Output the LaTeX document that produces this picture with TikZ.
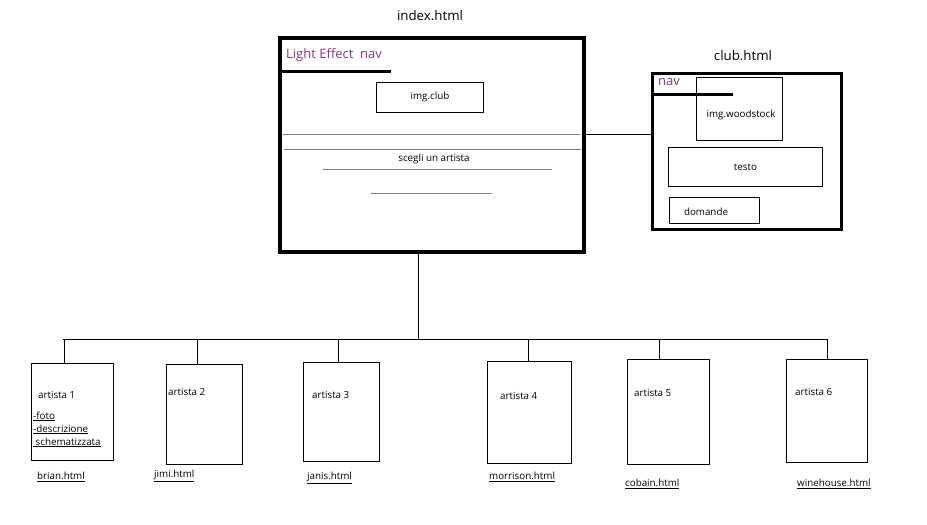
\documentclass[tikz,border=0pt]{standalone}
\usepackage{fontspec}
\setmainfont{Open Sans}
\usetikzlibrary{positioning}
\definecolor{navpurple}{RGB}{125,60,125}
\tikzset{
  pagebox/.style={draw, line width=3.5pt, anchor=north west, inner sep=0pt},
  subbox/.style={draw, line width=0.9pt, anchor=north west, inner sep=0pt},
  title/.style={font=\fontsize{13.3}{15}\selectfont},
  small/.style={font=\fontsize{9.8}{13}\selectfont, inner sep=1pt},
  navlabel/.style={font=\fontsize{13}{15}\selectfont, text=navpurple, anchor=west, inner sep=0pt},
  guide/.style={draw=gray, line width=0.8pt},
}
\begin{document}
\begin{tikzpicture}[x=1pt,y=-1pt]
  \useasboundingbox[fill=white] (0,0) rectangle (927,525);
  % index page
  \node[title](TI)at(430,16){index.html};
  \node[pagebox, minimum width=304, minimum height=214](IDX)at(278,36){};
  \node[navlabel](NI)at(286,55){Light Effect\ \ nav};
  \draw[line width=3pt](IDX.west |- 0,71)--(391,71);
  \node[subbox, minimum width=107, minimum height=30](IMG)at(376,82){};
  \node[small]at(IMG.center){img.club};
  \draw[guide](283,134)--(580,134);
  \draw[guide](284,149)--(581,149);
  \node[small](SC)at(434,159){scegli un artista};
  \draw[guide](323,169)--(552,169);
  \draw[guide](371,193)--(492,193);
  % club page
  \node[title](TC)at(743,56){club.html};
  \node[pagebox, line width=3pt, minimum width=189, minimum height=156](CLB)at(651,72){};
  \node[navlabel](NC)at(658,82){nav};
  \node[subbox, minimum width=86, minimum height=63](WS)at(696,77){};
  \node[small]at(741,115){img.woodstock};
  \draw[line width=3pt](CLB.west |- 0,94)--(733,94);
  \node[subbox, minimum width=154, minimum height=39](TX)at(668,147){};
  \node[small]at(TX.center){testo};
  \node[subbox, minimum width=90, minimum height=26](DM)at(669,197){};
  \node[small]at(706,212){domande};
  \draw[line width=0.9pt](IDX.east |- 0,134)--(CLB.west |- 0,134);
  % artist pages
  \coordinate(BUS)at(418,339);
  \draw[line width=0.9pt](IDX.south -| BUS)--(BUS);
  \draw[line width=0.9pt](63,339)--(827,339);
  \foreach \i/\x/\y/\w/\h/\d/\tx/\ty/\f/\fx/\fy in {1/31/363/82/97/64/37/395/brian.html/36/477,
      2/166/364/76/100/197/167/392/jimi.html/153/476,
      3/303/362/76/99/338/311/395/janis.html/306/478,
      4/487/361/84/102/528/499/396/morrison.html/488/477,
      5/627/359/82/105/659/633/393/cobain.html/624/484,
      6/786/359/81/103/827/794/392/winehouse.html/796/484}{
    \node[subbox, minimum width=\w, minimum height=\h](A\i)at(\x,\y){};
    \node[small, anchor=west](T\i)at(\tx,\ty){artista \i};
    \node[small, anchor=west](F\i)at(\fx,\fy){\underline{\f}};
    \draw[line width=0.9pt](A\i.north -| \d,0)--(\d,339);
  }
  \node[small, anchor=base west, align=left](D1)at(32,445){\underline{-foto}\\\underline{-descrizione}\\\underline{\ schematizzata}};
\end{tikzpicture}
\end{document}
